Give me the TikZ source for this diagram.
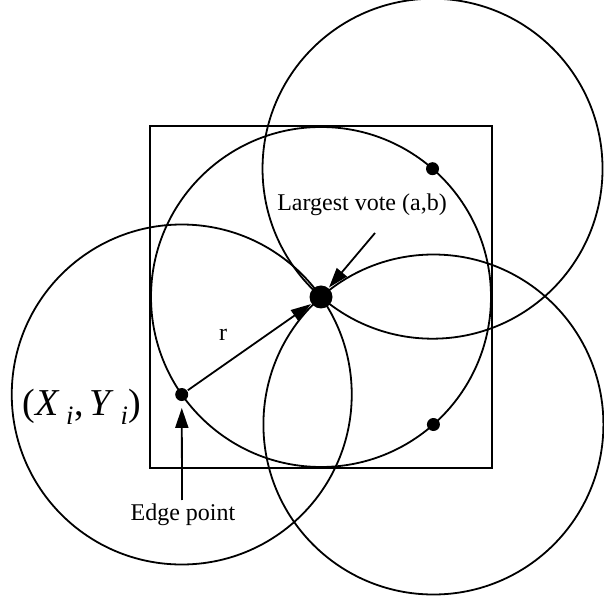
\documentclass[tikz,border=0pt]{standalone}
\usepackage{fontspec}
\setmainfont{Liberation Serif}
\usetikzlibrary{arrows.meta}

\begin{document}
\begin{tikzpicture}[x=1pt,y=1pt,line width=1.8pt,
  dot/.style={circle,fill,inner sep=0pt,minimum size=13pt},
  bigdot/.style={circle,fill,inner sep=0pt,minimum size=23pt},
  txt/.style={font=\fontsize{24}{28}\selectfont,inner sep=0pt},
  pointer/.style={-{Triangle[length=20pt,width=13pt]}}]
\useasboundingbox (0,0) rectangle (604,608);
\def\rad{170}
\coordinate (c) at (321,311);
% image area and the vote circle
\draw[line width=2.2pt] (c) ++(-171,-171) rectangle ++(342,342);
\draw (c) circle[radius=\rad];
% edge points
\node[dot] (eL) at ([shift={(215:\rad)}]c) {};
\node[dot] (eT) at ([shift={(49:\rad)}]c) {};
\node[dot] (eR) at ([shift={(-48.6:\rad)}]c) {};
\draw (eL) circle[radius=\rad];
\draw (eT) circle[radius=\rad];
\draw (eR) circle[radius=\rad];
\node[bigdot] (ab) at (c) {};
% arrows
\coordinate (vt) at (375,375);
\coordinate (et) at (182,108);
\draw[pointer] (eL) -- (ab);
\draw[pointer] (vt) -- (ab);
\draw[pointer,shorten >=6pt] (et) -- (eL);
% labels
\node[txt] (vote) at (362,403) {Largest vote (a,b)};
\node[txt] (edge) at (183,93) {Edge point};
\node[txt] (rlab) at (223,273) {r};
\node[font=\fontsize{38}{44}\selectfont,inner sep=0pt] (xy) at (82,201)
  {(\textit{X}\,\textsubscript{\textit{i}},\,\textit{Y}\,\textsubscript{\textit{i}})};
\end{tikzpicture}
\end{document}
